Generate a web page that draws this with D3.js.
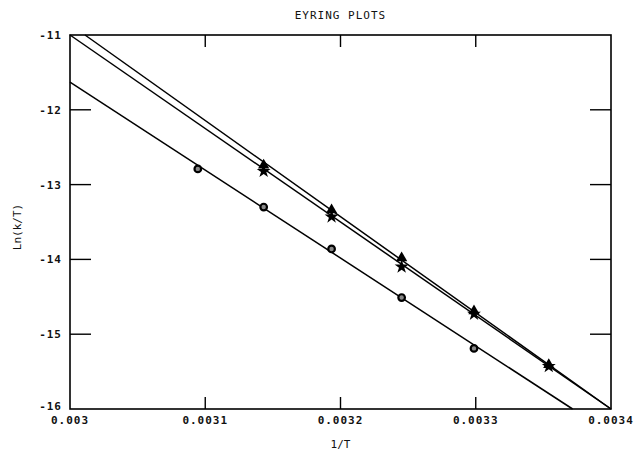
<!DOCTYPE html>
<html>
<head>
<meta charset="utf-8">
<script src="https://cdn.jsdelivr.net/npm/d3@7"></script>
<style>
  body { margin: 0; background: #fff; }
  text { font-family: "DejaVu Sans Mono", monospace; fill: #111; }
</style>
</head>
<body>
<div id="chart-container"></div>
<script>
// ln(k/T), x = 1/T (25..50 C)
const circleX = [0.0030945, 0.0031432, 0.0031934, 0.0032452, 0.0032987];
const circleY = [-12.79, -13.30, -13.86, -14.51, -15.19];
const triX = [0.0031432, 0.0031934, 0.0032452, 0.0032987, 0.0033540];
const triY = [-12.74, -13.34, -13.98, -14.69, -15.41];
const starX = [0.0031432, 0.0031934, 0.0032452, 0.0032987, 0.0033540];
const starY = [-12.82, -13.43, -14.10, -14.73, -15.43];

// fitted lines, end points as drawn
const lineTri = [[0.0030111, -11], [0.0034, -16]];
const lineStar = [[0.0030, -11], [0.0034, -16]];
const lineCircle = [[0.0030, -11.63], [0.0033716, -16]];

const xTicks = [0.003, 0.0031, 0.0032, 0.0033, 0.0034];
const xTickLabels = ["0.003", "0.0031", "0.0032", "0.0033", "0.0034"];
const yTicks = [-11, -12, -13, -14, -15, -16];

const W = 636, H = 454;
const margin = { top: 35, right: 25, bottom: 45, left: 70 },
  width = W - margin.left - margin.right,
  height = H - margin.top - margin.bottom;

const x = d3.scaleLinear().domain([0.003, 0.0034]).range([0, width]);
const y = d3.scaleLinear().domain([-16, -11]).range([height, 0]);

const svg = d3.select("#chart-container").append("svg")
  .attr("width", W)
  .attr("height", H);

const g = svg.append("g")
  .attr("transform", "translate(" + margin.left + "," + margin.top + ")");

// frame
g.append("rect")
  .attr("x", 0).attr("y", 0)
  .attr("width", width).attr("height", height)
  .attr("fill", "none")
  .attr("stroke", "#000")
  .attr("stroke-width", 1.6);

// inner ticks
const innerX = xTicks.slice(1, -1), innerY = yTicks.slice(1, -1);
g.selectAll(".tb").data(innerX).enter().append("line")
  .attr("x1", d => x(d)).attr("x2", d => x(d))
  .attr("y1", height).attr("y2", height - 12)
  .attr("stroke", "#000").attr("stroke-width", 1.4);
g.selectAll(".tt").data(innerX).enter().append("line")
  .attr("x1", d => x(d)).attr("x2", d => x(d))
  .attr("y1", 0).attr("y2", 12)
  .attr("stroke", "#000").attr("stroke-width", 1.4);
g.selectAll(".tl").data(innerY).enter().append("line")
  .attr("x1", 0).attr("x2", 21)
  .attr("y1", d => y(d)).attr("y2", d => y(d))
  .attr("stroke", "#000").attr("stroke-width", 1.4);
g.selectAll(".tr").data(innerY).enter().append("line")
  .attr("x1", width).attr("x2", width - 21)
  .attr("y1", d => y(d)).attr("y2", d => y(d))
  .attr("stroke", "#000").attr("stroke-width", 1.4);

// tick labels
g.selectAll(".xl").data(xTicks).enter().append("text")
  .attr("x", d => x(d))
  .attr("y", height + 15)
  .attr("text-anchor", "middle")
  .style("font-size", "11px")
  .style("font-weight", "bold")
  .style("letter-spacing", "1px")
  .text((d, i) => xTickLabels[i]);

g.selectAll(".yl").data(yTicks).enter().append("text")
  .attr("x", -8)
  .attr("y", d => y(d) + (d === -16 ? 1 : 4))
  .attr("text-anchor", "end")
  .style("font-size", "11px")
  .style("font-weight", "bold")
  .style("letter-spacing", "1px")
  .text(d => "-" + Math.abs(d));

// titles
svg.append("text")
  .attr("x", margin.left + width / 2)
  .attr("y", 19)
  .attr("text-anchor", "middle")
  .style("font-size", "11px")
  .style("letter-spacing", "1px")
  .text("EYRING PLOTS");

svg.append("text")
  .attr("x", margin.left + width / 2)
  .attr("y", 448)
  .attr("text-anchor", "middle")
  .style("font-size", "11px")
  .text("1/T");

svg.append("text")
  .attr("transform", "translate(21," + (margin.top + height / 2 + 5) + ") rotate(-90)")
  .attr("text-anchor", "middle")
  .style("font-size", "11px")
  .text("Ln(k/T)");

// fit lines
const line = d3.line().x(d => x(d[0])).y(d => y(d[1]));
[lineTri, lineStar, lineCircle].forEach(l => {
  g.append("path")
    .attr("d", line(l))
    .attr("fill", "none")
    .attr("stroke", "#000")
    .attr("stroke-width", 1.5);
});

// markers
const pts = (xs, ys) => xs.map((v, i) => [v, ys[i]]);

g.selectAll(".circ").data(pts(circleX, circleY)).enter().append("circle")
  .attr("cx", d => x(d[0])).attr("cy", d => y(d[1]))
  .attr("r", 3.3)
  .attr("fill", "#888")
  .attr("stroke", "#000")
  .attr("stroke-width", 2.2);

g.selectAll(".tri").data(pts(triX, triY)).enter().append("path")
  .attr("transform", d => "translate(" + x(d[0]) + "," + y(d[1]) + ")")
  .attr("d", d3.symbol().type(d3.symbolTriangle).size(55))
  .attr("fill", "#000");

g.selectAll(".star").data(pts(starX, starY)).enter().append("path")
  .attr("transform", d => "translate(" + x(d[0]) + "," + y(d[1]) + ")")
  .attr("d", d3.symbol().type(d3.symbolStar).size(60))
  .attr("fill", "#000");
</script>
</body>
</html>
